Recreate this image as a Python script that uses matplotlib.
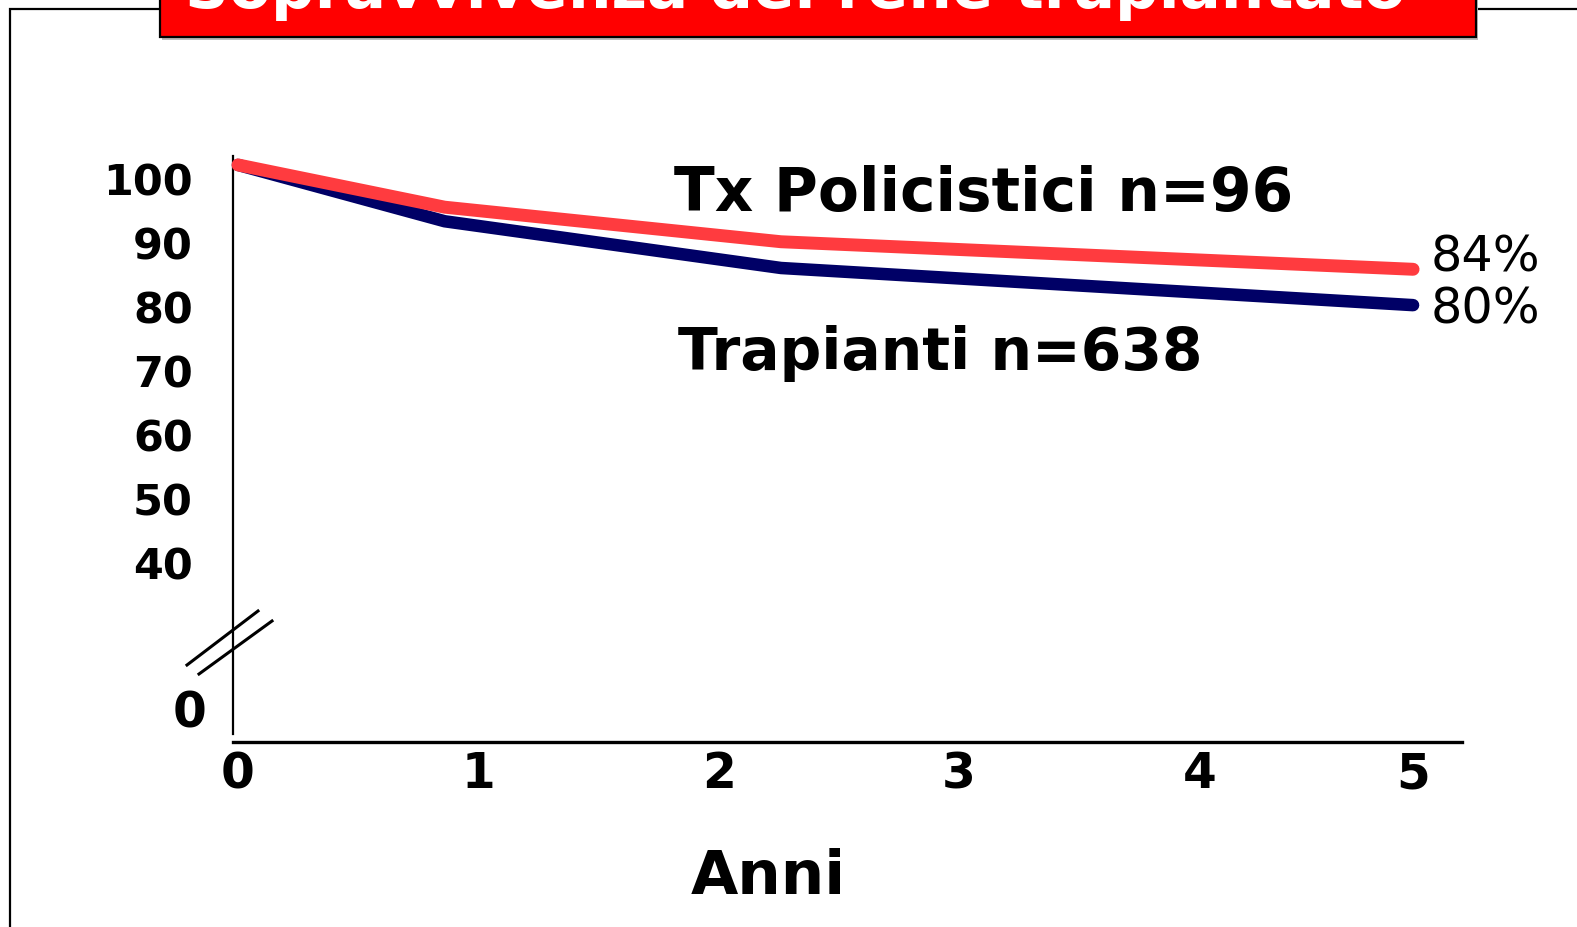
import numpy as np
import matplotlib
matplotlib.use('Agg')
import matplotlib.pyplot as plt
from matplotlib.patches import Rectangle
from matplotlib.lines import Line2D
from matplotlib.transforms import ScaledTranslation

# ---------------- data ----------------
years = [0, 0.86, 2.26, 5]
tx_policistici = [102.2, 95.6, 90.2, 85.9]
trapianti = [102.2, 93.4, 86.1, 80.3]
y_ticks = [0, 40, 50, 60, 70, 80, 90, 100]
y_tick_labels = ['0', '40', '50', '60', '70', '80', '90', '100']
x_ticks = [0, 1, 2, 3, 4, 5]
x_tick_labels = ['0', '1', '2', '3', '4', '5']
end_labels = ['84%', '80%']
series_labels = ['Tx Policistici n=96', 'Trapianti n=638']
title = 'Sopravvivenza del rene trapiantato'
xlabel = 'Anni'

# ---------------- figure ----------------
W, H = 1577, 927
plt.rcParams['font.family'] = ['DejaVu Sans']
fig = plt.figure(figsize=(W / 100, H / 100), dpi=100)
fig.patch.set_facecolor('white')


def fx(px):
    return px / W


def fy(py):
    return 1 - py / H


# broken y axis (0..40 compressed), slightly compressed last x interval
K_Y = 0.5615
K_X = 0.89


def y_fwd(v):
    v = np.asarray(v, dtype=float)
    return np.where(v >= 40, v, 40 - (40 - v) * K_Y)


def y_inv(u):
    u = np.asarray(u, dtype=float)
    return np.where(u >= 40, u, 40 - (40 - u) / K_Y)


def x_fwd(x):
    x = np.asarray(x, dtype=float)
    return np.where(x <= 4, x, 4 + (x - 4) * K_X)


def x_inv(u):
    u = np.asarray(u, dtype=float)
    return np.where(u <= 4, u, 4 + (u - 4) / K_X)


ax_left, ax_right, ax_top, ax_bot = 233, 1462, 156, 742
ax = fig.add_axes([fx(ax_left), fy(ax_bot), (ax_right - ax_left) / W, (ax_bot - ax_top) / H])
ax.set_facecolor('none')
ax.set_yscale('function', functions=(y_fwd, y_inv))
ax.set_xscale('function', functions=(x_fwd, x_inv))


def u_of_py(py):
    return 100 - (py - 179) / 6.403


def u_of_px(px):
    return (px - 238) / 240.3


ax.set_ylim(float(y_inv(u_of_py(ax_bot))), float(y_inv(u_of_py(ax_top))))
ax.set_xlim(float(x_inv(u_of_px(ax_left))), float(x_inv(u_of_px(ax_right))))

ax.plot(years, trapianti, color='#000066', lw=9, solid_capstyle='round',
        solid_joinstyle='round', zorder=3, clip_on=False)
ax.plot(years, tx_policistici, color='#FF3B3F', lw=9.3, solid_capstyle='round',
        solid_joinstyle='round', zorder=4, clip_on=False)

for s in ['top', 'right']:
    ax.spines[s].set_visible(False)
ax.spines['left'].set_linewidth(1.6)
ax.spines['left'].set_bounds(float(y_inv(u_of_py(734))), float(y_inv(u_of_py(ax_top))))
ax.spines['bottom'].set_linewidth(2.4)

ax.set_yticks(y_ticks)
ax.set_yticklabels(y_tick_labels)
ax.set_xticks(x_ticks)
ax.set_xticklabels(x_tick_labels)
ax.tick_params(axis='y', length=0, pad=29, labelsize=31)
ax.tick_params(axis='x', length=0, pad=6, labelsize=35)
for lab in ax.get_yticklabels() + ax.get_xticklabels():
    lab.set_fontweight('bold')
for lab in ax.get_yticklabels():
    if lab.get_text() == '0':
        lab.set_fontsize(35)
        lab.set_transform(lab.get_transform() + ScaledTranslation(0.14, -0.02, fig.dpi_scale_trans))

# break marks on the y axis
for (x1, y1, x2, y2) in [(187, 665, 258, 611), (199, 674, 272, 621)]:
    fig.add_artist(Line2D([fx(x1), fx(x2)], [fy(y1), fy(y2)], transform=fig.transFigure,
                          color='black', lw=2.2))

# series labels
fig.text(fx(984), fy(211), series_labels[0], ha='center', va='baseline',
         fontsize=43, fontweight='bold', color='black')
fig.text(fx(940), fy(370), series_labels[1], ha='center', va='baseline',
         fontsize=42, fontweight='bold', color='black')

# end labels
fig.text(fx(1431), fy(272), end_labels[0], ha='left', va='baseline', fontsize=35.5, color='black')
fig.text(fx(1431), fy(323), end_labels[1], ha='left', va='baseline', fontsize=35.5, color='black')

# x label
fig.text(fx(768), fy(894), xlabel, ha='center', va='baseline', fontsize=44,
         fontweight='bold', color='black')

# outer frame
fig.add_artist(Rectangle((fx(10), fy(960)), fx(1600) - fx(10), (960 - 9) / H,
                         transform=fig.transFigure, fill=False, edgecolor='black', lw=1.6,
                         zorder=1))

# title box with shadow
fig.add_artist(Rectangle((fx(162), fy(40)), fx(1478) - fx(162), 60 / H,
                         transform=fig.transFigure, facecolor='#BDBDBD', edgecolor='none',
                         zorder=5))
fig.add_artist(Rectangle((fx(160), fy(37)), fx(1476) - fx(160), 60 / H,
                         transform=fig.transFigure, facecolor='#FF0000', edgecolor='black',
                         lw=1.6, zorder=6))
fig.text(fx(795), fy(8), title, ha='center', va='baseline', fontsize=44,
         fontweight='bold', color='white', zorder=7)

fig.savefig('out.png', dpi=100, facecolor='white')
